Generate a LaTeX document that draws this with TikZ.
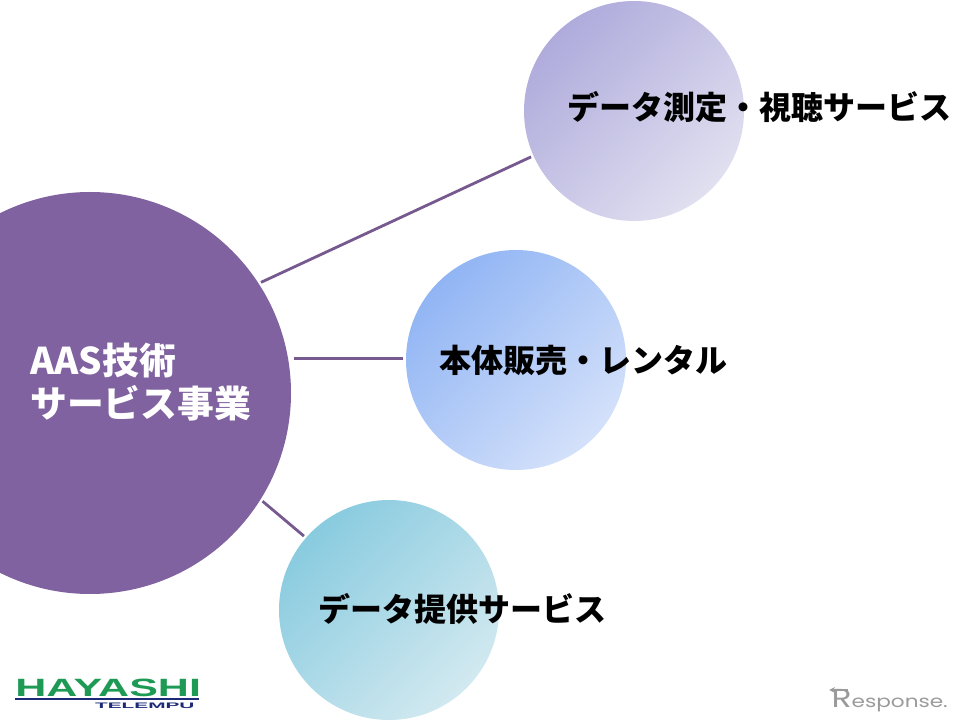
\documentclass[tikz,border=0pt]{standalone}
\usepackage{fontspec}
\setmainfont{Liberation Sans}
\newfontfamily\jpfont{Noto Sans CJK JP}
\newfontfamily\logofont{Poppins}
\definecolor{aasviolet}{HTML}{7F629F}
\definecolor{linkviolet}{HTML}{75598F}
\definecolor{logogreen}{HTML}{1E9A55}
\definecolor{logoblue}{HTML}{1C2A78}
\definecolor{respgray}{HTML}{9A9A9A}
\definecolor{measurefrom}{RGB}{175,171,220}
\definecolor{measureto}{RGB}{225,224,240}
\definecolor{salesfrom}{RGB}{145,181,244}
\definecolor{salesto}{RGB}{212,225,250}
\definecolor{supplyfrom}{RGB}{137,203,223}
\definecolor{supplyto}{RGB}{210,233,240}
\tikzset{
	bubble/.style={circle,inner sep=0pt,minimum size=220pt},
	bubbletext/.style={font=\jpfont\bfseries\fontsize{32}{32}\selectfont,text=black,inner sep=0pt},
	linkline/.style={draw=linkviolet,line width=2.8pt,shorten >=2.5pt,shorten <=2.5pt}
}
\begin{document}
\begin{tikzpicture}[x=1pt,y=1pt]
	\useasboundingbox(0,0)rectangle(960,720);
	\clip(0,0)rectangle(960,720);
	% circles
	\node[circle,inner sep=0pt,minimum size=402pt,fill=aasviolet](aas)at(90,327){};
	\node[bubble,top color=measurefrom,bottom color=measureto,shading angle=45](measure)at(634,609){};
	\node[bubble,top color=salesfrom,bottom color=salesto,shading angle=45](sales)at(516,360){};
	\node[bubble,top color=supplyfrom,bottom color=supplyto,shading angle=45](supply)at(389,110){};
	\coordinate(salesrow)at(0,361.5);
	% links
	\draw[linkline](aas.33)--(measure.204.5);
	\draw[linkline](aas.east|-salesrow)--(sales.west|-salesrow);
	\draw[linkline](aas.-32.5)--(supply.139.5);
	% labels
	\node[bubbletext](measurelabel)at(759,613){データ測定・視聴サービス};
	\node[bubbletext](saleslabel)at(583.5,360){本体販売・レンタル};
	\node[bubbletext](supplylabel)at(462.5,111){データ提供サービス};
	\node[anchor=west,align=left,inner sep=0pt,text=white,font=\jpfont\bfseries\fontsize{36.8}{43}\selectfont](aaslabel)at(30,338){AAS技術\\サービス事業};
	% logos
	\node[anchor=west,inner sep=0pt,text=logogreen,font=\bfseries\fontsize{25}{25}\selectfont,xscale=1.72](hayashi)at(15,32){HAYASHI};
	\draw[logoblue,line width=1.5pt](hayashi.west|-0,21)--(199,21);
	\node[anchor=east,inner sep=0pt,text=logoblue,font=\bfseries\fontsize{8}{8}\selectfont,xscale=2.6](telempu)at(195,14.5){TELEMPU};
	\node[anchor=base east,inner sep=0pt,text=respgray,font=\logofont\fontsize{17}{17}\selectfont,xscale=1.27](response)at(948,13){{\fontsize{26}{26}\selectfont R}esponse.};
	\coordinate(arrowstart)at(848,30);
	\coordinate(arrowend)at(829,30);
	\draw[respgray,line width=1.6pt,-stealth](arrowstart)--(arrowend);
\end{tikzpicture}
\end{document}
